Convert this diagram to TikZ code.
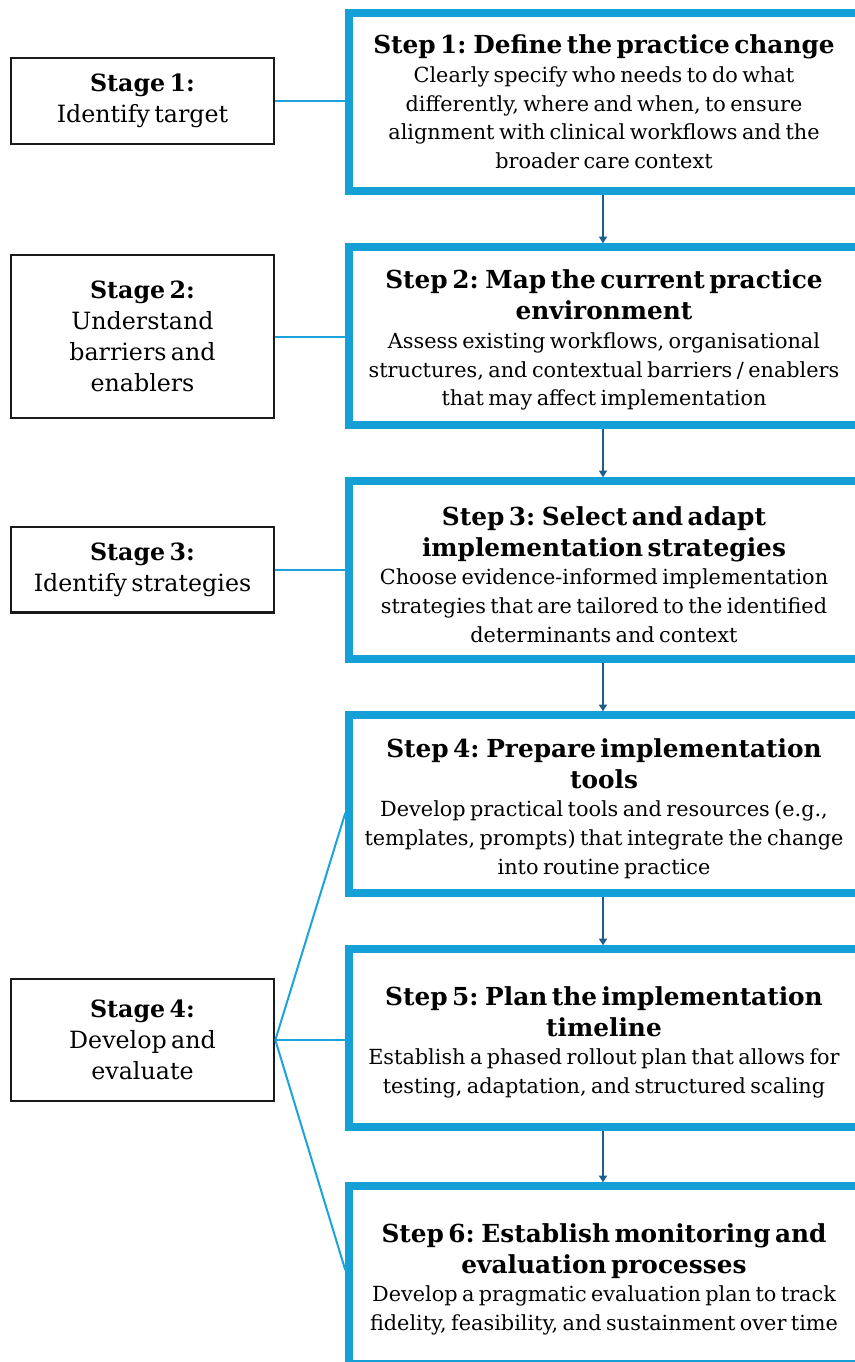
\documentclass[tikz,border=0pt]{standalone}
\usepackage{fontspec}
\setmainfont{DejaVu Serif}[WordSpace=1.15]
\usetikzlibrary{arrows.meta,calc}
\definecolor{stepblue}{HTML}{14A0D7}
\definecolor{linkblue}{HTML}{1CA3DB}
\definecolor{arrowblue}{HTML}{1D5E8A}
\definecolor{stageblack}{HTML}{1A1A1A}
\newcommand{\tfont}{\fontsize{18.6pt}{23.25pt}\selectfont\bfseries}
\newcommand{\bfnt}{\fontsize{15.6pt}{21.5pt}\selectfont\mdseries}
\newcommand{\sfnt}{\fontsize{17.8pt}{23.25pt}\selectfont}
\newcommand{\dropdown}{\rule{0pt}{20.5pt}}
\tikzset{
  stepbox/.style={draw=stepblue, line width=5.6pt, minimum width=382.5pt, minimum height=133.5pt, inner sep=0pt, text width=372pt, align=center},
  stagebox/.style={draw=stageblack, line width=2pt, minimum width=197.25pt, inner sep=0pt, text width=192pt, align=center},
  link/.style={draw=linkblue, line width=1.5pt},
  flow/.style={draw=arrowblue, line width=1.5pt, -{Triangle[width=6pt,length=5pt]}}
}
\begin{document}
\begin{tikzpicture}[x=0.75pt,y=-0.75pt]
\useasboundingbox (0,0) rectangle (855,1362);
\clip (0,0) rectangle (855,1362);
\fill[white] (0,0) rectangle (855,1362);
% step boxes
\node[stepbox] (s1) at (604,102) {\tfont Step 1: Define the practice change\par\bfnt Clearly specify who needs to do what\\differently, where and when, to ensure\\alignment with clinical workflows and the\\broader care context\par};
\node[stepbox] (s2) at (604,336) {\tfont\dropdown Step 2: Map the current practice\\environment\par\bfnt Assess existing workflows, organisational\\structures, and contextual barriers / enablers\\that may affect implementation\par};
\node[stepbox] (s3) at (604,570) {\tfont\dropdown Step 3: Select and adapt\\implementation strategies\par\bfnt Choose evidence-informed implementation\\strategies that are tailored to the identified\\determinants and context\par};
\node[stepbox] (s4) at (604,804) {\tfont\dropdown Step 4: Prepare implementation\\tools\par\bfnt Develop practical tools and resources (e.g.,\\templates, prompts) that integrate the change\\into routine practice\par};
\node[stepbox] (s5) at (604,1038) {\tfont\dropdown Step 5: Plan the implementation\\timeline\par\bfnt Establish a phased rollout plan that allows for\\testing, adaptation, and structured scaling\par};
\node[stepbox] (s6) at (604,1275) {\tfont\dropdown Step 6: Establish monitoring and\\evaluation processes\par\bfnt Develop a pragmatic evaluation plan to track\\fidelity, feasibility, and sustainment over time\par};
% stage boxes
\node[stagebox, minimum height=64.5pt] (g1) at (142.5,101) {\sfnt\textbf{Stage 1:}\\Identify target\par};
\node[stagebox, minimum height=122pt] (g2) at (142.5,336.5) {\sfnt\textbf{Stage 2:}\\Understand\\barriers and\\enablers\par};
\node[stagebox, minimum height=64pt] (g3) at (142.5,569.5) {\sfnt\textbf{Stage 3:}\\Identify strategies\par};
\node[stagebox, minimum height=91.5pt] (g4) at (142.5,1040) {\sfnt\textbf{Stage 4:}\\Develop and\\evaluate\par};
% links
\draw[link] (g1.east) -- (g1.east -| s1.west);
\draw[link] (g2.east) -- (g2.east -| s2.west);
\draw[link] (g3.east) -- (g3.east -| s3.west);
\draw[link] (g4.east) -- ([yshift=-6.75pt]s4.west);
\draw[link] (g4.east) -- (g4.east -| s5.west);
\draw[link] (g4.east) -- ([yshift=3.75pt]s6.west);
% flow arrows
\draw[flow] ([xshift=-0.75pt]s1.south) -- ([xshift=-0.75pt]s2.north);
\draw[flow] ([xshift=-0.75pt]s2.south) -- ([xshift=-0.75pt]s3.north);
\draw[flow] ([xshift=-0.75pt]s3.south) -- ([xshift=-0.75pt]s4.north);
\draw[flow] ([xshift=-0.75pt]s4.south) -- ([xshift=-0.75pt]s5.north);
\draw[flow] ([xshift=-0.75pt]s5.south) -- ([xshift=-0.75pt]s6.north);
\end{tikzpicture}
\end{document}
